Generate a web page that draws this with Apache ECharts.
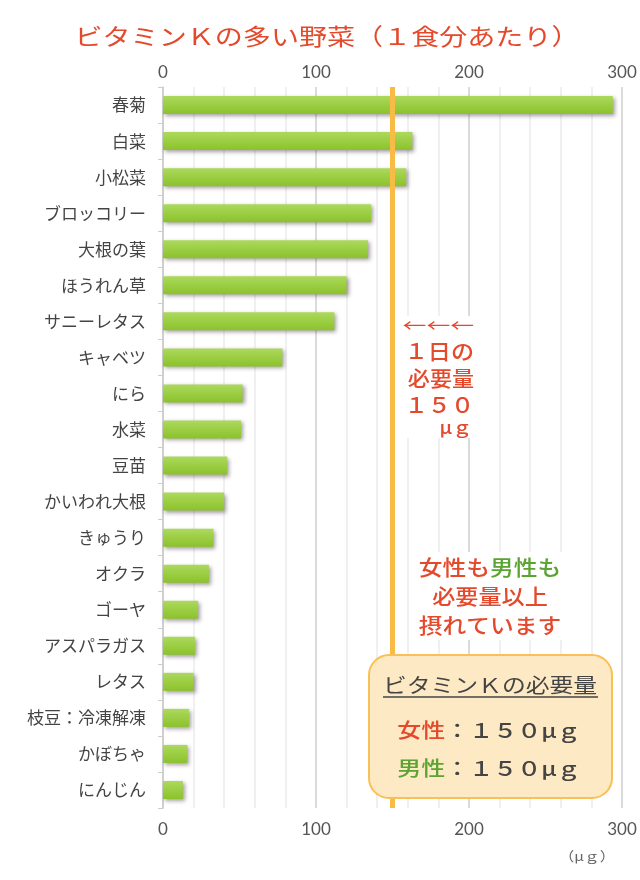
<!DOCTYPE html>
<html>
<head>
<meta charset="utf-8">
<script src="https://cdn.jsdelivr.net/npm/echarts@6/dist/echarts.min.js"></script>
<style>html,body{margin:0;padding:0;background:#fff;}#c{width:640px;height:880px;}</style>
</head>
<body>
<div id="c"></div>
<script>
const categories = ['春菊','白菜','小松菜','ブロッコリー','大根の葉','ほうれん草','サニーレタス','キャベツ','にら','水菜','豆苗','かいわれ大根','きゅうり','オクラ','ゴーヤ','アスパラガス','レタス','枝豆：冷凍解凍','かぼちゃ','にんじん'];
const values = [294,163,159,136,134,120,112,78,52,51,42,40,33,30,23,21,20,17,16,13];
const tickLabels = [0,100,200,300];
const requirement = 150;

const RED = '#e5492b', GREEN = '#5ba332', DARK = '#444444';
const JP = '"Noto Sans CJK JP", sans-serif';
const NUM = 'Lato, "Noto Sans", sans-serif';

const chart = echarts.init(document.getElementById('c'), null, {renderer:'canvas'});
const xBase = {
  type:'value', min:0, max:300, interval:20,
  axisLine:{show:false}, axisTick:{show:false},
};
function t(x, y, text, font, fill, align, sx, extra) {
  return Object.assign({type:'text', x:x, y:y, scaleX:sx || 1, z:50,
    style:{text:text, fill:fill, font:font, textAlign:align, textVerticalAlign:'middle'}}, extra || {});
}
chart.setOption({
  backgroundColor:'#fff',
  animation:false,
  grid:{left:163, right:18, top:87, bottom:72},
  xAxis:[
    Object.assign({}, xBase, {position:'top',
      axisLabel:{color:'#555', fontSize:17, fontFamily:NUM, margin:6,
        formatter:v=>tickLabels.includes(v)?String(v):''},
      splitLine:{show:true, lineStyle:{color:['#cfcfcf','#ebebeb','#ebebeb','#ebebeb','#ebebeb'], width:1.5}}
    }),
    Object.assign({}, xBase, {position:'bottom',
      axisLabel:{color:'#555', fontSize:17, fontFamily:NUM, margin:13,
        formatter:v=>tickLabels.includes(v)?String(v):''},
      splitLine:{show:false}
    })
  ],
  yAxis:{
    type:'category', data:categories, inverse:true,
    axisLine:{show:true, lineStyle:{color:'#cccccc', width:1.5}},
    axisTick:{show:true, length:5, lineStyle:{color:'#cccccc'}},
    axisLabel:{color:DARK, fontSize:17, fontFamily:JP, margin:17}
  },
  series:[{
    type:'bar', xAxisIndex:0, data:values, barWidth:18,
    itemStyle:{
      color:new echarts.graphic.LinearGradient(0,0,0,1,[{offset:0,color:'#acd95c'},{offset:1,color:'#8bc22b'}]),
      shadowColor:'rgba(60,40,60,0.45)', shadowBlur:4, shadowOffsetX:2, shadowOffsetY:2
    },
    markLine:{
      silent:true, symbol:'none', label:{show:false},
      lineStyle:{color:'#f8bb45', width:5, type:'solid'},
      data:[{xAxis:requirement}]
    }
  }],
  graphic:[
    t(327, 36, 'ビタミンＫの多い野菜（１食分あたり）', '400 23px '+JP, RED, 'center', 1.22),
    {type:'rect', z:40, shape:{x:400, y:316, width:77, height:122}, style:{fill:'#fff'}},
    t(474, 326, '←←←', '400 17px '+JP, RED, 'right', 1.4),
    t(474, 351, '１日の', '500 21px '+JP, RED, 'right', 1.1),
    t(474, 378, '必要量', '500 21px '+JP, RED, 'right', 1.05),
    t(474, 405, '１５０', '500 21px '+JP, RED, 'right', 1.1),
    t(472, 427, 'μｇ', '500 18px '+JP, RED, 'right', 1.1),
    {type:'rect', z:40, shape:{x:414, y:552, width:152, height:88}, style:{fill:'#fff'}},
    {type:'text', z:50, x:490, y:567, scaleX:1.13, style:{text:'{r|女性も}{g|男性も}', textAlign:'center', textVerticalAlign:'middle',
      rich:{r:{fill:RED, font:'500 21px '+JP}, g:{fill:GREEN, font:'500 21px '+JP}}}},
    t(490, 596, '必要量以上', '500 21px '+JP, RED, 'center', 1.1),
    t(490, 625, '摂れています', '500 21px '+JP, RED, 'center', 1.13),
    {type:'rect', z:100, shape:{x:369, y:655, width:243, height:143, r:20},
      style:{fill:'#fde9c3', stroke:'#f8c057', lineWidth:2}},
    t(490, 685, 'ビタミンＫの必要量', '400 20px '+JP, DARK, 'center', 1.19, {z:101}),
    {type:'line', z:101, shape:{x1:383, y1:697, x2:598, y2:697}, style:{stroke:DARK, lineWidth:1.5}},
    {type:'text', z:101, x:489, y:730, scaleX:1.2, style:{text:'{r|女性}{d|：１５０μｇ}', textAlign:'center', textVerticalAlign:'middle',
      rich:{r:{fill:RED, font:'500 20px '+JP}, d:{fill:DARK, font:'500 20px '+JP}}}},
    {type:'text', z:101, x:489, y:768, scaleX:1.2, style:{text:'{g|男性}{d|：１５０μｇ}', textAlign:'center', textVerticalAlign:'middle',
      rich:{g:{fill:GREEN, font:'500 20px '+JP}, d:{fill:DARK, font:'500 20px '+JP}}}},
    t(587, 856, '（μｇ）', '400 13px '+JP, '#666', 'center', 1.2)
  ]
});
</script>
</body>
</html>
